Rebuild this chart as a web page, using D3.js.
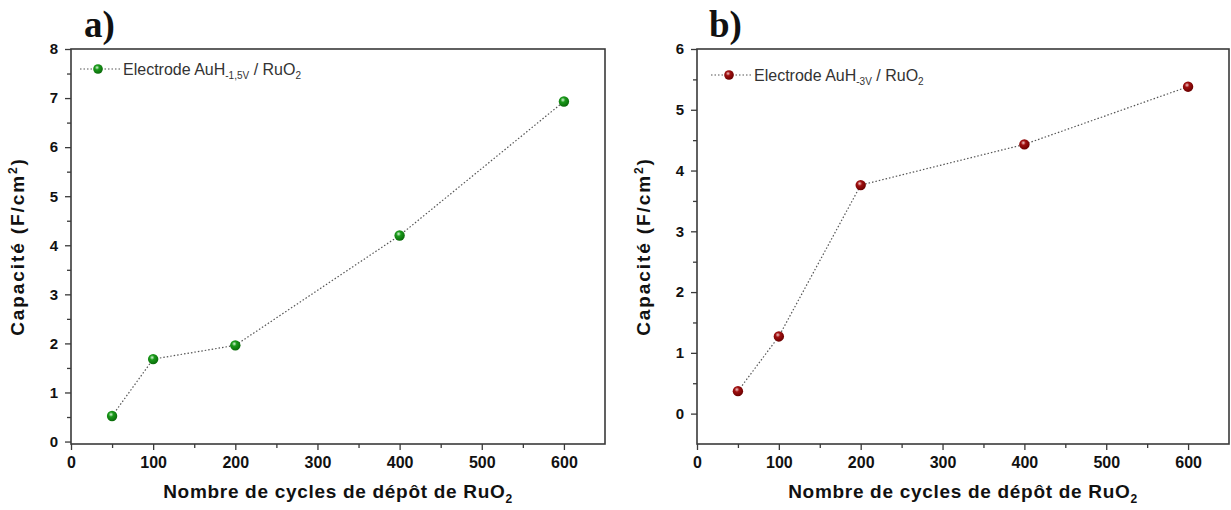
<!DOCTYPE html>
<html><head><meta charset="utf-8">
<script src="https://cdn.jsdelivr.net/npm/d3@7"></script>
<style>body{margin:0;background:#fff}svg{display:block}</style>
</head><body>
<svg id="chart" width="1231" height="510"></svg>
<script>
// ---- data ----
const cyclesA = [50, 100, 200, 400, 600];
const capA = [0.52, 1.68, 1.96, 4.20, 6.93];
const cyclesB = [50, 100, 200, 400, 600];
const capB = [0.37, 1.27, 3.76, 4.43, 5.38];
const xTicks = [0, 100, 200, 300, 400, 500, 600];
const yTicksA = [0, 1, 2, 3, 4, 5, 6, 7, 8];
const yTicksB = [0, 1, 2, 3, 4, 5, 6];

const svg = d3.select("#chart");
const defs = svg.append("defs");
function grad(id, light, mid, dark) {
  const g = defs.append("radialGradient").attr("id", id)
    .attr("cx", "0.4").attr("cy", "0.35").attr("r", "0.65");
  g.append("stop").attr("offset", "0%").attr("stop-color", light);
  g.append("stop").attr("offset", "35%").attr("stop-color", mid);
  g.append("stop").attr("offset", "100%").attr("stop-color", dark);
}
grad("gGreen", "#d8f5d8", "#1a9a1a", "#0a6a0a");
grad("gRed", "#f3c8c8", "#a01010", "#6a0000");

const axisColor = "#3a3a3a";
const FONT = "Liberation Sans, Arial, sans-serif";

function panel(o) {
  const g = svg.append("g");
  const x = d3.scaleLinear().domain([0, 650]).range([o.left, o.right]);
  const y = d3.scaleLinear().domain(o.yDomain).range([o.bottom, o.top]);

  const minorX = d3.range(50, 650, 100);
  const minorY = d3.range(o.yDomain[0] < 0 ? -0.5 : 0.5, o.yDomain[1], 1).filter(v => v > o.yDomain[0]);

  const xAxis = d3.axisBottom(x).tickValues(xTicks).tickSize(6).tickPadding(7).tickFormat(d3.format("d"));
  const yAxis = d3.axisLeft(y).tickValues(o.yTicks).tickSize(6).tickPadding(7).tickFormat(d3.format("d"));

  const gx = g.append("g").attr("transform", `translate(0,${o.bottom})`).call(xAxis);
  const gy = g.append("g").attr("transform", `translate(${o.left},0)`).call(yAxis);
  g.append("g").attr("transform", `translate(0,${o.bottom})`)
    .call(d3.axisBottom(x).tickValues(minorX).tickSize(4).tickFormat(""));
  g.append("g").attr("transform", `translate(${o.left},0)`)
    .call(d3.axisLeft(y).tickValues(minorY).tickSize(4).tickFormat(""));
  g.selectAll(".domain").remove();
  g.selectAll(".tick line").attr("stroke", axisColor).attr("stroke-width", 1.3);
  g.selectAll(".tick text").attr("font-family", FONT)
    .attr("font-weight", "bold").attr("fill", "#111");
  gx.selectAll(".tick text").attr("font-size", 16);
  gy.selectAll(".tick text").attr("font-size", 15);

  // frame
  g.append("rect").attr("x", o.left).attr("y", o.top)
    .attr("width", o.right - o.left).attr("height", o.bottom - o.top)
    .attr("fill", "none").attr("stroke", axisColor).attr("stroke-width", 1.6);

  // line
  const pts = o.xs.map((d, i) => [d, o.ys[i]]);
  g.append("path").datum(pts)
    .attr("d", d3.line().x(d => x(d[0])).y(d => y(d[1])))
    .attr("fill", "none").attr("stroke", "#555").attr("stroke-width", 1.2)
    .attr("stroke-dasharray", "1.5,2");
  g.selectAll("circle.pt").data(pts).join("circle").attr("class", "pt")
    .attr("cx", d => x(d[0])).attr("cy", d => y(d[1])).attr("r", 5.2)
    .attr("fill", `url(#${o.grad})`);

  // legend
  const ly = o.legY, lx = o.left + o.legDx;
  g.append("line").attr("x1", lx + 9).attr("x2", lx + 49).attr("y1", ly).attr("y2", ly)
    .attr("stroke", "#555").attr("stroke-width", 1.2).attr("stroke-dasharray", "1.5,2");
  g.append("circle").attr("cx", lx + 27).attr("cy", ly).attr("r", 4.8).attr("fill", `url(#${o.grad})`);
  const lt = g.append("text").attr("x", lx + 52).attr("y", ly + 5.5)
    .attr("font-family", FONT).attr("font-size", 16).attr("fill", "#333");
  lt.append("tspan").text("Electrode AuH");
  lt.append("tspan").attr("dy", 4).attr("font-size", 10).text(o.sub);
  lt.append("tspan").attr("dy", -4).text(" / RuO");
  lt.append("tspan").attr("dy", 4).attr("font-size", 10).text("2");

  // axis titles
  const xt = g.append("text").attr("x", (o.left + o.right) / 2).attr("y", 498)
    .attr("text-anchor", "middle").attr("font-family", FONT).attr("letter-spacing", 0.7)
    .attr("font-weight", "bold").attr("font-size", 19).attr("fill", "#111");
  xt.append("tspan").text("Nombre de cycles de dépôt de RuO");
  xt.append("tspan").attr("dy", 5).attr("font-size", 12).text("2");

  const yt = g.append("text")
    .attr("transform", `translate(${o.left - 47},${(o.top + o.bottom) / 2}) rotate(-90)`)
    .attr("text-anchor", "middle").attr("font-family", FONT).attr("letter-spacing", 1.9)
    .attr("font-weight", "bold").attr("font-size", 19).attr("fill", "#111");
  yt.append("tspan").text("Capacité (F/cm");
  yt.append("tspan").attr("dy", -7).attr("font-size", 12).text("2");
  yt.append("tspan").attr("dy", 7).text(")");

  // panel letter
  g.append("text").attr("x", o.letterX).attr("y", 37)
    .attr("font-family", "Liberation Serif, Times New Roman, serif").attr("font-weight", "bold")
    .attr("font-size", 37).attr("fill", "#111").text(o.letter);
}

panel({ left: 71, right: 605, top: 49, bottom: 444, yDomain: [-0.05, 8], yTicks: yTicksA,
  xs: cyclesA, ys: capA, grad: "gGreen", sub: "-1,5V", letter: "a)", letterX: 84,
  legY: 69, legDx: 0 });
panel({ left: 697, right: 1229, top: 49, bottom: 444, yDomain: [-0.5, 6], yTicks: yTicksB,
  xs: cyclesB, ys: capB, grad: "gRed", sub: "-3V", letter: "b)", letterX: 709,
  legY: 75, legDx: 5 });
</script>
</body></html>
